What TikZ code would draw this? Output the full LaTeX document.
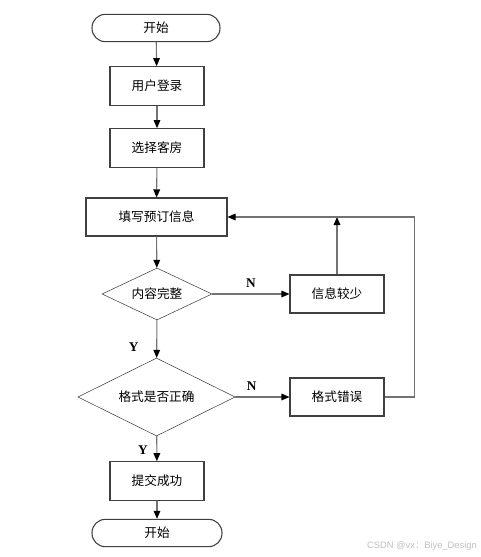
\documentclass[tikz,border=0pt]{standalone}
\usepackage{fontspec}
\setmainfont{Noto Sans CJK SC}
\newfontfamily\ynfont{Liberation Serif}
\newfontfamily\wmfont{Liberation Sans}
\usetikzlibrary{arrows.meta, positioning, shapes.geometric}

\begin{document}
\begin{tikzpicture}[
    x=0.75pt, y=-0.75pt,
    font=\fontsize{9.5}{11}\selectfont,
    term/.style={draw=black!75, thick, rounded corners=10pt, fill=white,
                 minimum width=96pt, minimum height=20.5pt, inner sep=0pt},
    pbox/.style={draw=black!75, thick, fill=white, align=center,
                 minimum width=70.5pt, minimum height=29pt, inner sep=0pt},
    dbox/.style={draw=black!75, diamond, aspect=2.1, fill=white, inner sep=0pt},
    fl/.style={-{Triangle[length=6pt, width=5pt, color=black]}, thick, black!55},
    yn/.style={font=\ynfont\bfseries\fontsize{10}{12}\selectfont, black}
  ]
    \useasboundingbox (0,0) rectangle (480,557);
    % ---- 主流程 ----
    \node[term] (start) at (156,28) {开始};
    \node[pbox] (login) at (157,86) {用户登录};
    \node[pbox] (room) at (157,148) {选择客房};
    \node[pbox, minimum width=105.75pt, minimum height=28.5pt] (fill) at (156.5,217) {填写预订信息};
    \node[dbox, minimum width=82.5pt, minimum height=39pt] (chk1) at (157,294) {内容完整};
    \node[dbox, minimum width=118pt, minimum height=58.5pt] (chk2) at (156.5,397) {格式是否正确};
    \node[pbox] (ok) at (157,481) {提交成功};
    \node[term, minimum width=97.5pt] (stop) at (157,533) {开始};
    % ---- 右侧分支 ----
    \node[pbox, minimum height=28.5pt] (few) at (337,294) {信息较少};
    \node[pbox, minimum height=28.5pt] (err) at (337,397) {格式错误};
    % ---- 箭头 ----
    \draw[fl] (start) -- (login);
    \draw[fl] (login) -- (room);
    \draw[fl] (room) -- (fill);
    \draw[fl] (fill) -- (chk1);
    \draw[fl] (chk1) -- node[yn, left=10pt, pos=0.72] {Y} (chk2);
    \draw[fl] (chk2) -- node[yn, left=3pt, pos=0.55] {Y} (ok);
    \draw[fl] (ok) -- (stop);
    \draw[fl] (chk1) -- node[yn, above=1pt] {N} (few);
    \draw[fl] (chk2) -- node[yn, above=1pt, pos=0.3] {N} (err);
    \draw[fl] (few.north) -- (few.north |- fill.east);
    \draw[fl] (err.east) -- ++(30,0) |- (fill.east);
    % ---- 水印 ----
    \node[font=\wmfont\fontsize{7}{8}\selectfont, black!25] (wm) at (422,546) {CSDN @vx{\rmfamily ：}Biye\_Design};
\end{tikzpicture}
\end{document}
